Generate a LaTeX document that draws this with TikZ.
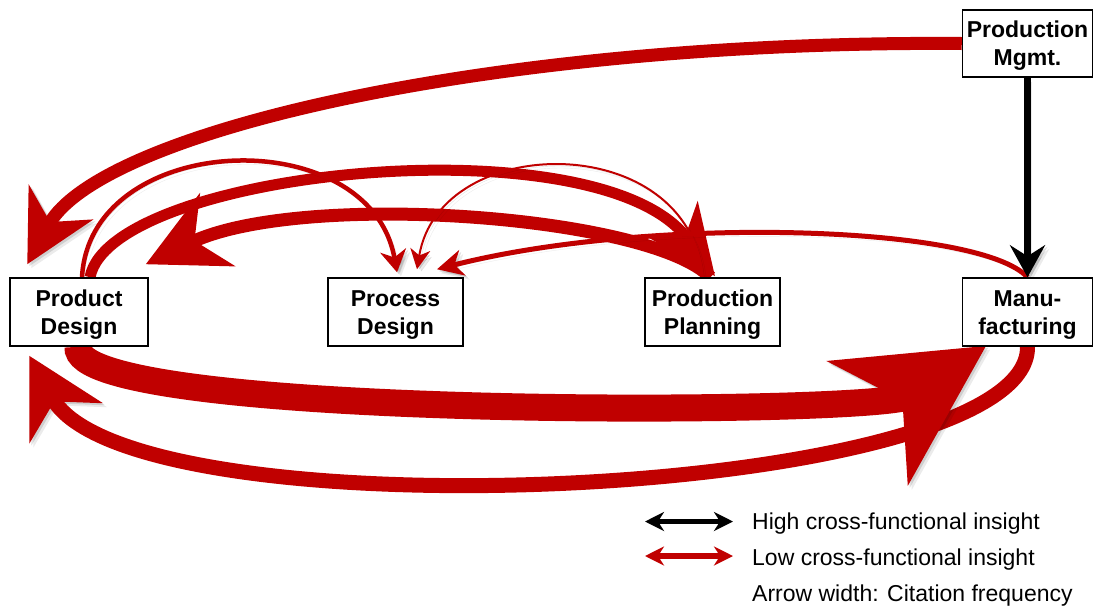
\documentclass[tikz,border=0pt]{standalone}
\usepackage{fontspec}
\setmainfont{Liberation Sans}
\usetikzlibrary{arrows.meta,backgrounds}
\definecolor{flowred}{RGB}{192,0,0}
% extra height on the first line of a box label
\newcommand\unitstrut{\rule{0pt}{21pt}}
\begin{document}
\begin{tikzpicture}[x=1pt,y=-1pt,
  unit/.style={draw=black, line width=1.5pt, fill=white, minimum width=#1,
    minimum height=68pt, inner sep=0pt, align=center,
    font=\bfseries\fontsize{23}{28}\selectfont},
  unit/.default=135pt,
  flow/.style={draw=flowred, line width=#1},
  hd/.style n args={3}{-{Stealth[length=#1pt, width=#2pt, inset=#3pt]}},
  castshadow/.style={preaction={draw=black, opacity=0.12,
      transform canvas={shift={(2pt,-2pt)}}},
    preaction={draw=black, opacity=0.08,
      transform canvas={shift={(4pt,-4pt)}}}},
  legendtext/.style={anchor=base west, inner sep=0pt,
    font=\fontsize{23}{28}\selectfont},
  legendtip/.style={line width=5.5pt,
    {Stealth[length=19pt, width=19pt, inset=6pt]}-{Stealth[length=19pt, width=19pt, inset=6pt]}}
]
\useasboundingbox (0,0) rectangle (1093,606);

% functional units
\node[unit=138pt] (pd)  at (79,312)     {\unitstrut Product\\Design};
\node[unit]       (prd) at (395.5,312)  {\unitstrut Process\\Design};
\node[unit]       (pp)  at (712.5,312)  {\unitstrut Production\\Planning};
\node[unit=130pt] (mf)  at (1027.5,312) {\unitstrut Manu-\\facturing};
\node[unit=130pt, minimum height=67pt] (pm) at (1027.5,43.5) {\unitstrut Production\\Mgmt.};

\begin{pgfonlayer}{background}
% upper flows
\draw[flow=13, hd={70}{72}{22}, castshadow]
  (pm.west) .. controls (500,40) and (100,130) .. ([shift={(18,-13)}]pd.north west);
\draw[flow=13, hd={79}{80}{25}, castshadow]
  ([shift={(-2,0)}]pp.north) .. controls (650,215) and (300,190) .. ([shift={(-3,-13)}]pd.north east);
\draw[flow=11, hd={70}{60}{20}, castshadow]
  ([shift={(11,0)}]pd.north) .. controls (110,170) and (600,120) .. ([shift={(2.5,-1)}]pp.north);
\draw[flow=4.5, hd={22}{26}{7}, castshadow]
  ([shift={(3,0)}]pd.north) .. controls (90,130) and (370,120) .. ([shift={(1.5,-5)}]prd.north);
\draw[flow=2, hd={20}{20}{6}, castshadow]
  ([shift={(-10,0)}]pp.north) .. controls (690,130) and (440,130) .. ([shift={(21.5,-8)}]prd.north);
\draw[flow=5, hd={26}{26}{8}, castshadow]
  (mf.north) .. controls (980,225) and (650,215) .. ([shift={(41.5,-8)}]prd.north);
% management to manufacturing
\draw[draw=black, line width=7pt, hd={32}{35}{11}, castshadow] (pm.south) -- (mf.north);
% lower flows
\draw[flow=15, hd={76}{82}{24}, castshadow]
  (mf.south) .. controls (1030,500) and (130,540) .. ([shift={(20,9)}]pd.south west);
\draw[flow=27, hd={140}{145}{40}, castshadow]
  ([shift={(-1,0)}]pd.south) .. controls (70,420) and (880,415) .. ([shift={(24.5,-1)}]mf.south west);
\end{pgfonlayer}

% legend
\coordinate (k1a) at (645,521.5);
\coordinate (k1b) at (733,521.5);
\coordinate (k2a) at (645,556);
\coordinate (k2b) at (733,556);
\draw[legendtip, draw=black] (k1a) -- (k1b);
\draw[legendtip, draw=flowred] (k2a) -- (k2b);
\node[legendtext] (t1) at (752,529) {High cross-functional insight};
\node[legendtext] (t2) at (752,565) {Low cross-functional insight};
\node[legendtext] (t3) at (752,601) {Arrow width: Citation frequency};
\end{tikzpicture}
\end{document}
